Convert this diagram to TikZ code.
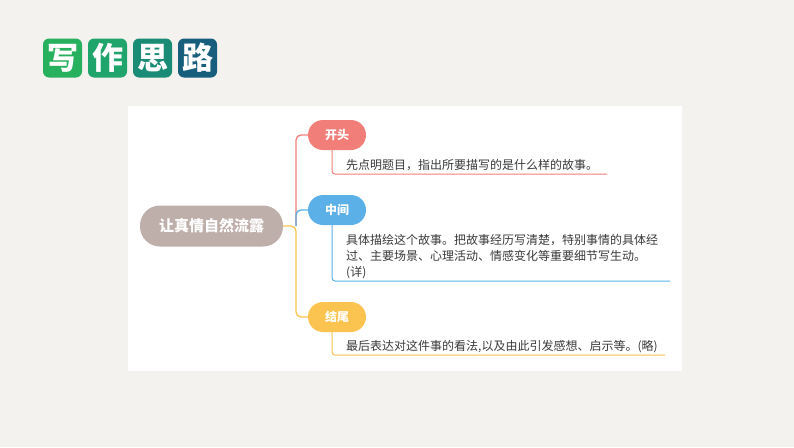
\documentclass[tikz,border=0pt]{standalone}
\usepackage{fontspec}
\setmainfont{Noto Sans CJK SC}
\definecolor{bgc}{HTML}{F3F2EF}
\definecolor{tA}{HTML}{27B15E}
\definecolor{tB}{HTML}{1FA46B}
\definecolor{tC}{HTML}{1A8B74}
\definecolor{tD}{HTML}{175E7C}
\definecolor{rootc}{HTML}{BFAFAA}
\definecolor{redc}{HTML}{F27E7A}
\definecolor{bluec}{HTML}{5BB0E8}
\definecolor{yelc}{HTML}{FBC34F}
\definecolor{txtc}{HTML}{3A3A3A}
\tikzset{
  tile/.style={fill=#1, rounded corners=6pt, minimum width=39pt, minimum height=39pt, inner sep=0pt, text=white, font=\fontsize{31}{31}\selectfont\bfseries},
  pill/.style={fill=#1, rounded corners=15pt, minimum width=58pt, minimum height=30pt, inner sep=0pt, text=white, font=\fontsize{12}{12}\selectfont\bfseries},
  conn/.style={draw=#1, line width=1.3pt, rounded corners=5pt},
  desc/.style={text=txtc, font=\fontsize{12}{16}\selectfont, inner sep=0pt, align=left},
}
\begin{document}
\begin{tikzpicture}[x=1pt,y=-1pt]
\useasboundingbox (0,0) rectangle (794,447);
\fill[bgc] (0,0) rectangle (794,447);
\fill[white] (128,106) rectangle (682,371);
% title
\node[tile=tA] (w1) at (62.5,58) {写};
\node[tile=tB] (w2) at (107.5,58) {作};
\node[tile=tC] (w3) at (152.5,58) {思};
\node[tile=tD] (w4) at (197.5,58) {路};
% root
\node[fill=rootc, rounded corners=20pt, minimum width=143pt, minimum height=41pt, inner sep=0pt, text=white, font=\fontsize{15}{15}\selectfont\bfseries] (root) at (211.5,226) {让真情自然流露};
% branches
\node[pill=redc] (n1) at (337,135) {开头};
\node[pill=bluec] (n2) at (337,210) {中间};
\node[pill=yelc] (n3) at (337,317) {结尾};
\coordinate (j) at (296,226);
\draw[conn=redc] (j) |- (n1.west);
\draw[conn=bluec] (j) |- (n2.west);
\draw[conn=yelc] (root.east) -- (j) |- (n3.west);
% descriptions
\node[desc, anchor=west] (t1) at (346,165) {先点明题目，指出所要描写的是什么样的故事。};
\node[desc, anchor=north west] (t2) at (346,234) {具体描绘这个故事。把故事经历写清楚，特别事情的具体经\\过、主要场景、心理活动、情感变化等重要细节写生动。\\(详)};
\node[desc, anchor=west] (t3) at (346,347) {最后表达对这件事的看法,以及由此引发感想、启示等。(略)};
\coordinate (e1) at (607,174);
\coordinate (e2) at (670,281);
\coordinate (e3) at (665,355);
\draw[conn=redc, line width=1pt, rounded corners=3pt] ([xshift=-5pt]n1.south) |- (e1);
\draw[conn=bluec, line width=1pt, rounded corners=3pt] ([xshift=-5pt]n2.south) |- (e2);
\draw[conn=yelc, line width=1pt, rounded corners=3pt] ([xshift=-5pt]n3.south) |- (e3);
\end{tikzpicture}
\end{document}
